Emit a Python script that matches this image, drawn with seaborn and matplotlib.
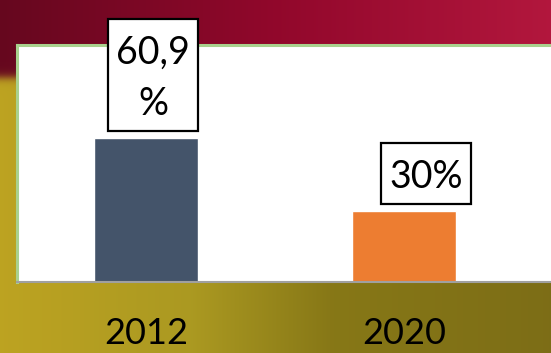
import numpy as np
import pandas as pd
import seaborn as sns
import matplotlib.pyplot as plt
from matplotlib.patches import Rectangle
from matplotlib.transforms import IdentityTransform

# Share of the indicator in each year (percent)
years = ["2012", "2020"]
values = [60.9, 30.0]
value_labels = ["60,9\n%", "30%"]
bar_colors = ["#44546a", "#ed7d31"]

sns.set_theme(style="white")
plt.rcParams["font.family"] = ["Lato", "DejaVu Sans"]

W, H = 551, 353
fig = plt.figure(figsize=(W / 100, H / 100), dpi=100)

# Slide background: crimson band on top, olive-yellow below
bg = fig.add_axes([0, 0, 1, 1], zorder=0)
bg.set_axis_off()
xs = np.linspace(0, 1, W)
top = np.stack([np.interp(xs, [0, 0.5, 1], c) for c in
                ([0.40, 0.57, 0.70], [0.03, 0.03, 0.09], [0.12, 0.17, 0.24])], axis=-1)
bot = np.stack([np.interp(xs, [0, 0.35, 0.6, 1], c) for c in
                ([0.74, 0.67, 0.53, 0.49], [0.64, 0.60, 0.47, 0.43], [0.13, 0.13, 0.09, 0.09])], axis=-1)
ys = np.arange(H)[:, None, None]
t = 1 / (1 + np.exp(-(ys - 77) / 2.5))
img = top[None, :, :] * (1 - t) + bot[None, :, :] * t
bg.imshow(img, aspect="auto", extent=(0, 1, 0, 1), interpolation="bilinear")
bg.set_xlim(0, 1)
bg.set_ylim(0, 1)

# Plot area
left, right, top_px, bottom_px = 17, 551, 45, 282
ax = fig.add_axes([left / W, 1 - bottom_px / H, (right - left) / W, (bottom_px - top_px) / H], zorder=1)
ax.set_facecolor("white")

df = pd.DataFrame({"year": years, "value": values})
sns.barplot(data=df, x="year", y="value", hue="year", palette=bar_colors,
            width=0.4, legend=False, ax=ax, saturation=1)

ax.set_xlim(-0.5, 1.57)
ax.set_ylim(0, 100)
ax.set_xlabel("")
ax.set_ylabel("")
ax.set_yticks([])

ax.set_xticks([0, 1])
ax.set_xticklabels(years, fontsize=26, color="black")
ax.tick_params(axis="x", which="major", length=0, pad=25.5)
ax.set_xticks([-0.5, 0.5], minor=True)
ax.tick_params(axis="x", which="minor", length=9.5, width=1.3, color="#a0a0a0", direction="out")

for side in ["left", "top"]:
    ax.spines[side].set_color("#a9d18e")
    ax.spines[side].set_linewidth(2.2)
ax.spines["right"].set_visible(False)
ax.spines["bottom"].set_color("#a0a0a0")
ax.spines["bottom"].set_linewidth(1.5)

# Boxed value labels above the bars
label_shift = [7, 22]
texts = []
for i, (v, lab) in enumerate(zip(values, value_labels)):
    texts.append(ax.annotate(lab, xy=(i, v), xytext=(label_shift[i], 16), textcoords="offset pixels",
                             ha="center", va="bottom", fontsize=27, color="black", linespacing=1.5,
                             annotation_clip=False, zorder=6))

fig.canvas.draw()
renderer = fig.canvas.get_renderer()
pad_x, pad_top, pad_bottom = 8, 16, 9
for txt in texts:
    bb = txt.get_window_extent(renderer)
    ax.add_patch(Rectangle((bb.x0 - pad_x, bb.y0 - pad_bottom),
                           bb.width + 2 * pad_x, bb.height + pad_top + pad_bottom,
                           transform=IdentityTransform(), facecolor="white", edgecolor="black",
                           linewidth=1.6, zorder=5, clip_on=False))

fig.savefig("out.png", dpi=100)
